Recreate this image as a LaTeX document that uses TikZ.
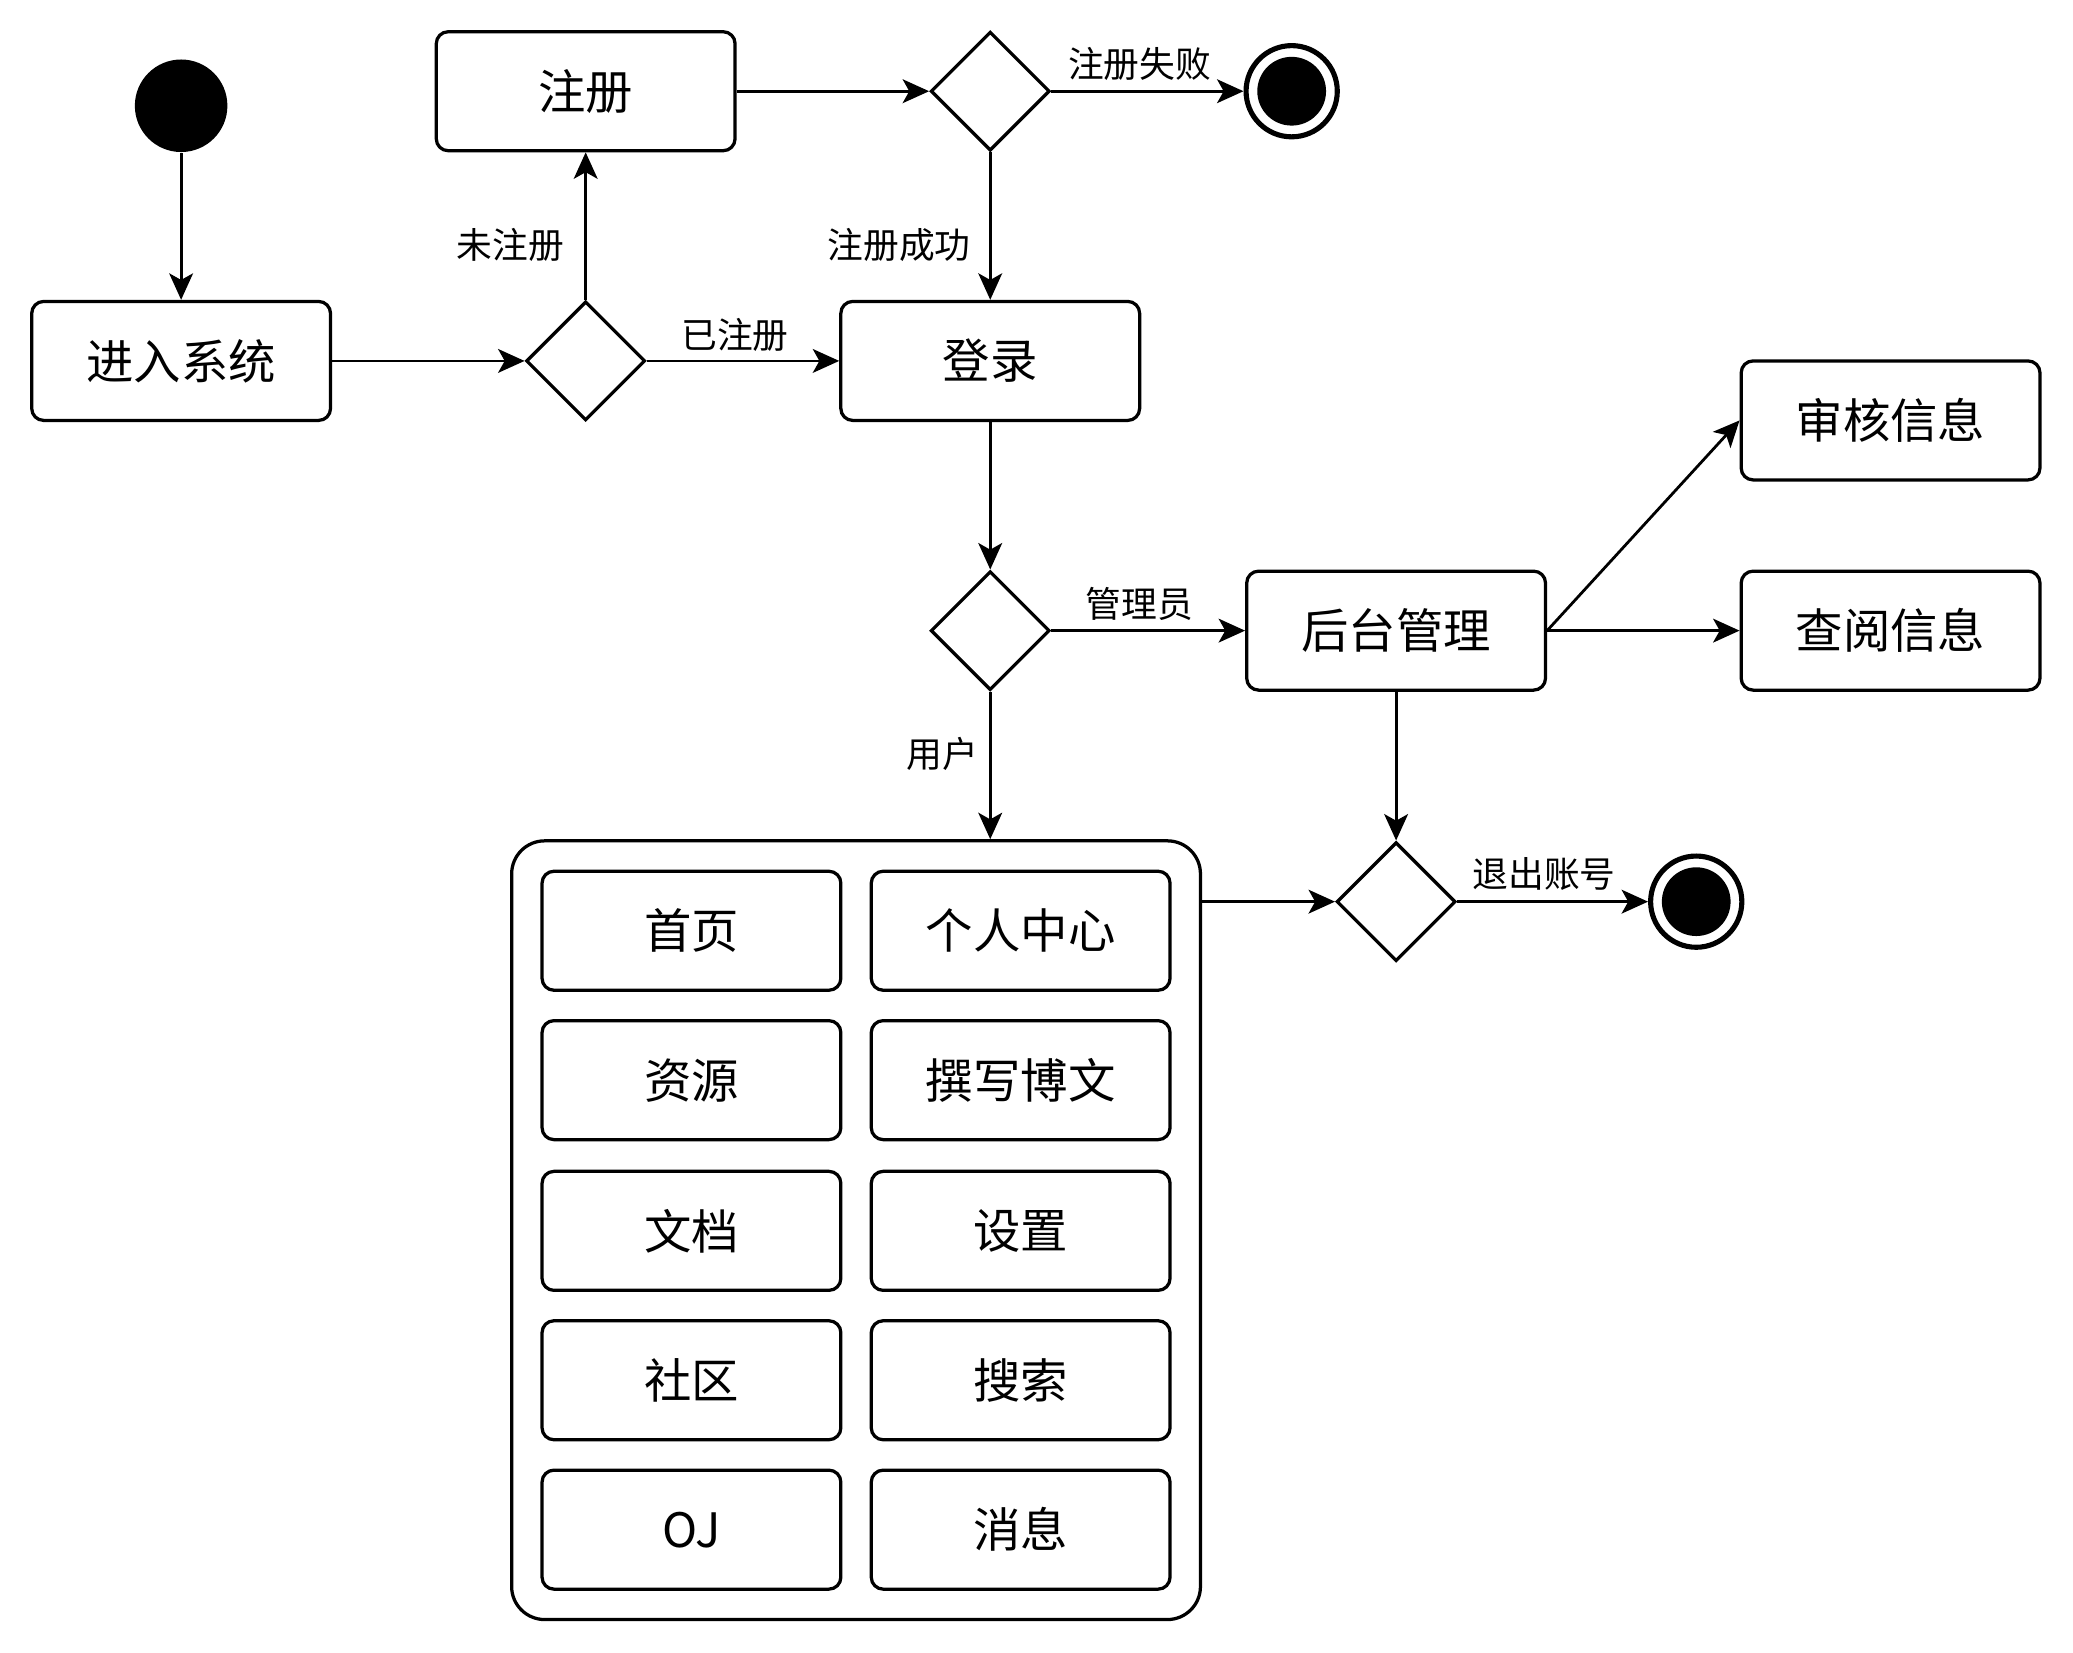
\documentclass[tikz,border=0pt]{standalone}
\usepackage{fontspec}
\setmainfont{Noto Sans CJK SC}
\usetikzlibrary{shapes.geometric,arrows.meta}
\begin{document}
\begin{tikzpicture}[
  box/.style={draw, line width=0.7pt, rounded corners=0.09cm, minimum width=2.26cm, minimum height=0.9cm, font=\fontsize{10.2}{12}\selectfont},
  choice/.style={draw, line width=0.7pt, diamond, aspect=1, minimum width=0.9cm, minimum height=0.9cm, inner sep=0pt},
  startdot/.style={circle, fill=black, minimum size=0.7cm, inner sep=0pt},
  enddot/.style={circle, draw=black, line width=1.1pt, minimum size=0.69cm, inner sep=0pt, path picture={\fill[black] (path picture bounding box.center) circle (0.26cm);}},
  lbl/.style={font=\fontsize{7.7}{9}\selectfont, inner sep=1pt},
  arr/.style={-{Stealth[length=0.2cm, width=0.18cm, inset=0.05cm]}, line width=0.6pt}
]
\useasboundingbox (0,0) rectangle (15.68,-12.50);
\node[startdot] (start) at (1.37,-0.80) {};
\node[box] (enter) at (1.37,-2.73) {进入系统};
\node[choice] (d1) at (4.43,-2.73) {};
\node[box] (reg) at (4.43,-0.69) {注册};
\node[choice] (d2) at (7.49,-0.69) {};
\node[enddot] (end1) at (9.77,-0.69) {};
\node[box] (login) at (7.49,-2.73) {登录};
\node[choice] (d3) at (7.49,-4.77) {};
\node[box] (admin) at (10.56,-4.77) {后台管理};
\node[box] (audit) at (14.30,-3.18) {审核信息};
\node[box] (view) at (14.30,-4.77) {查阅信息};
\node[choice] (d4) at (10.56,-6.82) {};
\node[enddot] (end2) at (12.83,-6.82) {};
% user functions
\node[draw, line width=0.7pt, rounded corners=0.25cm, minimum width=5.21cm, minimum height=5.89cm] (grp) at (6.475,-9.305) {};
\node[box] (home) at (5.23,-7.04) {首页};
\node[box] (me) at (7.72,-7.04) {个人中心};
\node[box] (res) at (5.23,-8.17) {资源};
\node[box] (blog) at (7.72,-8.17) {撰写博文};
\node[box] (doc) at (5.23,-9.31) {文档};
\node[box] (set) at (7.72,-9.31) {设置};
\node[box] (comm) at (5.23,-10.44) {社区};
\node[box] (search) at (7.72,-10.44) {搜索};
\node[box] (oj) at (5.23,-11.57) {OJ};
\node[box] (msg) at (7.72,-11.57) {消息};
% labels
\node[lbl] (l1) at (3.86,-1.85) {未注册};
\node[lbl] (l2) at (5.56,-2.53) {已注册};
\node[lbl] (l3) at (6.80,-1.85) {注册成功};
\node[lbl] (l4) at (8.62,-0.48) {注册失败};
\node[lbl] (l5) at (8.62,-4.57) {管理员};
\node[lbl] (l6) at (7.13,-5.70) {用户};
\node[lbl] (l7) at (11.68,-6.61) {退出账号};
% flow
\draw[arr] (start) -- (enter);
\draw[arr] (enter) -- (d1);
\draw[arr] (d1) -- (reg);
\draw[arr] (d1) -- (login);
\draw[arr] (reg) -- (d2);
\draw[arr] (d2) -- (end1);
\draw[arr] (d2) -- (login);
\draw[arr] (login) -- (d3);
\draw[arr] (d3) -- (admin);
\draw[arr] (d3) -- (d3 |- grp.north);
\draw[arr] (admin.east) -- (audit.west);
\draw[arr] (admin) -- (view);
\draw[arr] (admin) -- (d4);
\draw[arr] (grp.east |- d4) -- (d4);
\draw[arr] (d4) -- (end2);
\end{tikzpicture}
\end{document}
